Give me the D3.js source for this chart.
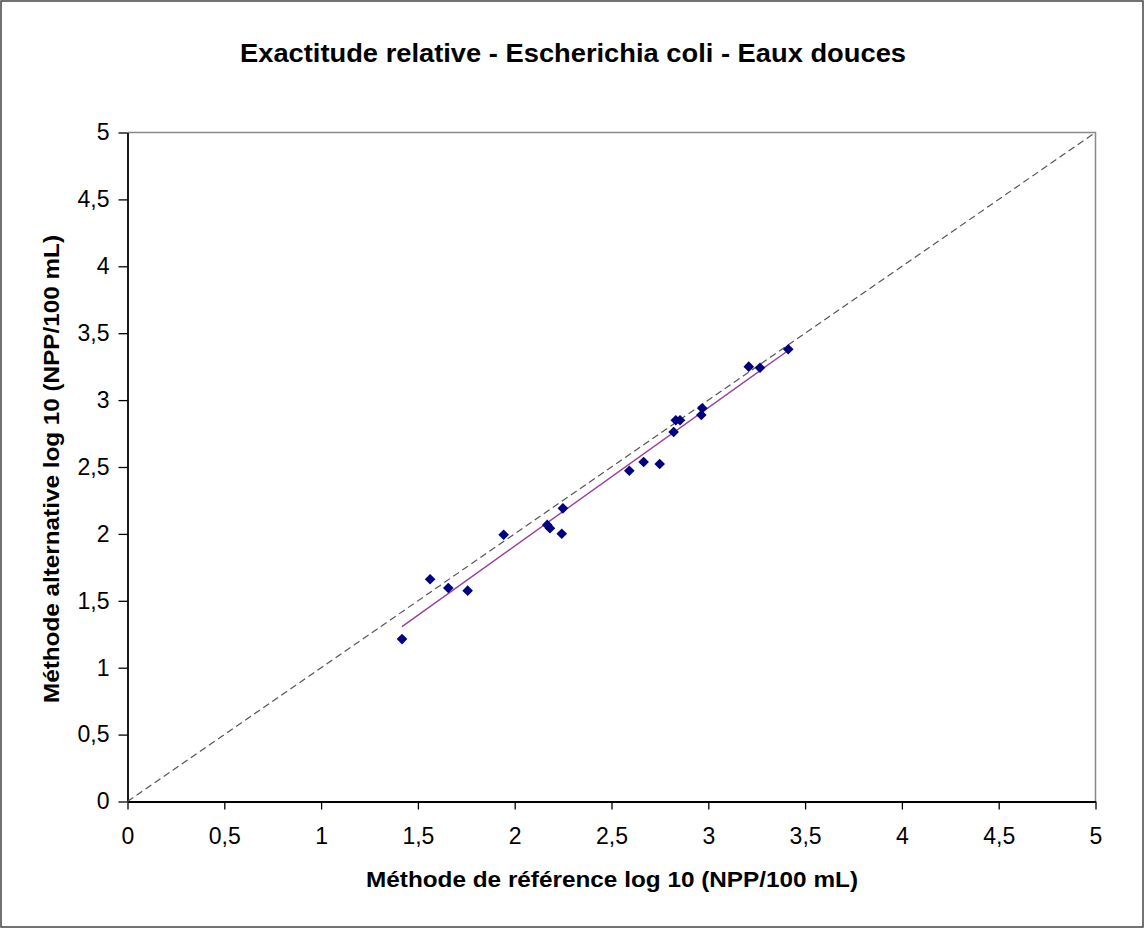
<!DOCTYPE html>
<html>
<head>
<meta charset="utf-8">
<script src="https://cdn.jsdelivr.net/npm/d3@7/dist/d3.min.js"></script>
<style>
  html, body { margin: 0; padding: 0; background: #fff; }
  svg { display: block; }
  text { font-family: "Liberation Sans", Arial, sans-serif; }
</style>
</head>
<body>
<svg id="chart" width="1144" height="929"></svg>
<script>
// Reference method (x) vs alternative method (y), log10 NPP/100 mL
const refLog = [1.418, 1.563, 1.657, 1.757, 1.943, 2.168, 2.182, 2.243, 2.249,
                2.592, 2.666, 2.749, 2.821, 2.832, 2.854, 2.964, 2.969, 3.209, 3.267, 3.413];
const altLog = [1.214, 1.661, 1.596, 1.576, 1.994, 2.067, 2.042, 2.001, 2.191,
                2.472, 2.537, 2.522, 2.762, 2.849, 2.849, 2.889, 2.939, 3.250, 3.242, 3.380];
const tickValues = [0, 0.5, 1, 1.5, 2, 2.5, 3, 3.5, 4, 4.5, 5];
const axisDomain = [0, 5];

const titleText = "Exactitude relative - Escherichia coli - Eaux douces";
const xTitle = "Méthode de référence log 10 (NPP/100 mL)";
const yTitle = "Méthode alternative log 10 (NPP/100 mL)";

const svg = d3.select("#chart");
const W = 1144, H = 929;
const plot = { left: 127.5, right: 1095.5, top: 132.5, bottom: 801.5 };

// outer frame
svg.append("rect")
  .attr("x", 1).attr("y", 1).attr("width", W - 2).attr("height", H - 3)
  .attr("fill", "#fff").attr("stroke", "#444").attr("stroke-width", 1.5);

const x = d3.scaleLinear().domain(axisDomain).range([plot.left, plot.right]);
const y = d3.scaleLinear().domain(axisDomain).range([plot.bottom, plot.top]);

// plot area border (top/right grey)
svg.append("path")
  .attr("d", `M${plot.left},${plot.top}H${plot.right}V${plot.bottom}`)
  .attr("fill", "none").attr("stroke", "#888").attr("stroke-width", 1.5);

const fmt = d => String(d).replace(".", ",");

// axes
const xAxis = svg.append("g")
  .attr("transform", `translate(0,${plot.bottom})`)
  .call(d3.axisBottom(x).tickValues(tickValues).tickFormat(fmt).tickSize(8).tickSizeOuter(0).tickPadding(18));
const yAxis = svg.append("g")
  .attr("transform", `translate(${plot.left},0)`)
  .call(d3.axisLeft(y).tickValues(tickValues).tickFormat(fmt).tickSize(9).tickSizeOuter(0).tickPadding(9));

[xAxis, yAxis].forEach(g => {
  g.select(".domain").attr("stroke", "#000").attr("stroke-width", 1.8);
  g.selectAll(".tick line").attr("stroke", "#000").attr("stroke-width", 1.3);
  g.selectAll(".tick text")
    .attr("fill", "#000")
    .style("font-family", '"Liberation Sans", Arial, sans-serif')
    .style("font-size", "23px");
});

// identity line y = x
svg.append("line")
  .attr("x1", x(axisDomain[0])).attr("y1", y(axisDomain[0]))
  .attr("x2", x(axisDomain[1])).attr("y2", y(axisDomain[1]))
  .attr("stroke", "#555").attr("stroke-width", 1.2)
  .attr("stroke-dasharray", "7,4");

// least-squares fit over the observed range
const n = refLog.length;
const mx = d3.mean(refLog), my = d3.mean(altLog);
let sxy = 0, sxx = 0;
for (let i = 0; i < n; i++) {
  sxy += (refLog[i] - mx) * (altLog[i] - my);
  sxx += (refLog[i] - mx) ** 2;
}
const slope = sxy / sxx, intercept = my - slope * mx;
const [xmin, xmax] = d3.extent(refLog);
svg.append("line")
  .attr("x1", x(xmin)).attr("y1", y(intercept + slope * xmin))
  .attr("x2", x(xmax)).attr("y2", y(intercept + slope * xmax))
  .attr("stroke", "#9b3f9b").attr("stroke-width", 1.4);

// data points (diamonds)
const diamond = d3.symbol().type(d3.symbolDiamond2).size(72);
svg.append("g").selectAll("path")
  .data(refLog.map((v, i) => [v, altLog[i]]))
  .join("path")
  .attr("d", diamond)
  .attr("transform", d => `translate(${x(d[0])},${y(d[1])})`)
  .attr("fill", "#000080");

// titles
svg.append("text")
  .attr("x", 573).attr("y", 62)
  .attr("text-anchor", "middle")
  .attr("textLength", 666).attr("lengthAdjust", "spacingAndGlyphs")
  .style("font-size", "26px").style("font-weight", "bold")
  .text(titleText);

svg.append("text")
  .attr("x", 612).attr("y", 887)
  .attr("text-anchor", "middle")
  .attr("textLength", 492).attr("lengthAdjust", "spacingAndGlyphs")
  .style("font-size", "22px").style("font-weight", "bold")
  .text(xTitle);

svg.append("text")
  .attr("transform", `translate(59,469) rotate(-90)`)
  .attr("text-anchor", "middle")
  .attr("textLength", 468).attr("lengthAdjust", "spacingAndGlyphs")
  .style("font-size", "22px").style("font-weight", "bold")
  .text(yTitle);
</script>
</body>
</html>
